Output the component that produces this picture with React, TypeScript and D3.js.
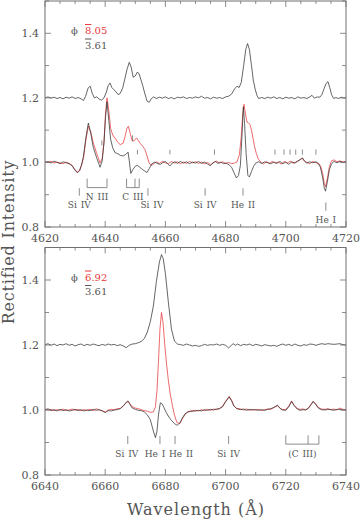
import * as d3 from "d3";

type Pt = [number, number];

// ---- data ----
const topWaveRange: [number, number] = [4620, 4720];
const bottomWaveRange: [number, number] = [6640, 6740];
const fluxRange: [number, number] = [0.8, 1.5];
const yTickLabels = [0.8, 1.0, 1.2, 1.4];

// upper (offset) spectrum, top panel
const top4650Mean: Pt[] = [
  [4620, 1.2], [4621, 1.203], [4622, 1.199], [4623, 1.202], [4624, 1.198], [4625, 1.201], [4626, 1.197],
  [4627, 1.202], [4628, 1.199], [4629, 1.203], [4630, 1.198], [4631, 1.201], [4632, 1.197], [4632.8, 1.192],
  [4633.5, 1.205], [4634.3, 1.23], [4635, 1.236], [4635.7, 1.214], [4636.4, 1.2], [4637.2, 1.203], [4638, 1.196],
  [4638.8, 1.193], [4639.6, 1.2], [4640.4, 1.218], [4641, 1.238], [4641.6, 1.246], [4642.2, 1.232], [4642.8, 1.226],
  [4643.5, 1.22], [4644.3, 1.21], [4645, 1.214], [4645.8, 1.23], [4646.6, 1.262], [4647.3, 1.29], [4648, 1.31],
  [4648.6, 1.296], [4649.3, 1.264], [4650, 1.268], [4650.6, 1.279], [4651.2, 1.276], [4651.9, 1.255], [4652.5, 1.237],
  [4653.2, 1.212], [4653.9, 1.19], [4654.6, 1.186], [4655.3, 1.197], [4656, 1.203], [4657, 1.198], [4658, 1.202],
  [4659, 1.199], [4660, 1.203], [4661, 1.198], [4662, 1.201], [4663, 1.197], [4664, 1.202], [4665, 1.2],
  [4666, 1.203], [4667, 1.198], [4668, 1.201], [4669, 1.199], [4670, 1.203], [4671, 1.2], [4672, 1.205],
  [4673, 1.199], [4674, 1.201], [4675, 1.197], [4676, 1.202], [4677, 1.199], [4678, 1.201], [4679, 1.198],
  [4680, 1.203], [4681, 1.205], [4682, 1.212], [4683, 1.228], [4683.8, 1.236], [4684.5, 1.232], [4685.2, 1.248],
  [4686, 1.3], [4686.7, 1.35], [4687.3, 1.368], [4687.9, 1.35], [4688.6, 1.3], [4689.2, 1.255], [4689.8, 1.228],
  [4690.4, 1.208], [4691, 1.198], [4692, 1.201], [4693, 1.198], [4694, 1.202], [4695, 1.199], [4696, 1.203],
  [4697, 1.198], [4698, 1.201], [4699, 1.197], [4700, 1.202], [4701, 1.199], [4702, 1.201], [4703, 1.197],
  [4704, 1.203], [4705, 1.199], [4706, 1.201], [4707, 1.198], [4708, 1.203], [4708.7, 1.208], [4709.5, 1.199],
  [4710.5, 1.203], [4711.3, 1.202], [4712, 1.21], [4712.7, 1.228], [4713.4, 1.245], [4714, 1.25], [4714.6, 1.232],
  [4715.2, 1.21], [4715.9, 1.198], [4716.6, 1.201], [4717.5, 1.198], [4718.5, 1.202], [4719.3, 1.199], [4720, 1.201],
];

const top4650PhaseA: Pt[] = [
  [4620, 1.0], [4621, 1.003], [4622, 0.998], [4623, 1.004], [4624, 1.0], [4625, 0.996], [4626, 1.002],
  [4627, 0.999], [4628, 0.996], [4629, 0.99], [4629.8, 0.978], [4630.7, 0.968], [4631.5, 0.974], [4632.2, 0.995],
  [4632.8, 1.02], [4633.6, 1.078], [4634.4, 1.122], [4635.2, 1.09], [4636, 1.048], [4637.1, 1.016], [4638.3, 0.985],
  [4639, 1.005], [4639.6, 1.06], [4640.1, 1.14], [4640.6, 1.188], [4641.2, 1.13], [4641.8, 1.072], [4642.5, 1.045],
  [4643.3, 1.03], [4644.2, 1.027], [4645, 1.022], [4646, 1.02], [4647, 1.026], [4647.6, 1.032], [4648, 1.005],
  [4648.5, 0.966], [4649.2, 0.978], [4650, 0.988], [4650.7, 0.991], [4651.5, 0.985], [4652.4, 0.978], [4653.3, 0.972],
  [4653.9, 0.969], [4654.7, 0.982], [4655.5, 0.996], [4656.5, 1.001], [4657.5, 0.996], [4658.3, 0.994], [4659.2, 1.0],
  [4660, 1.003], [4660.8, 0.995], [4661.5, 0.989], [4662.3, 0.998], [4663.2, 1.002], [4664, 0.997], [4665, 1.003],
  [4666, 0.998], [4667, 1.002], [4668, 0.996], [4669, 1.001], [4670, 0.998], [4671, 1.003], [4672, 0.997],
  [4673, 1.001], [4674, 0.995], [4674.9, 0.99], [4675.8, 0.998], [4676.6, 1.003], [4677.5, 0.997], [4678.4, 1.001],
  [4679.3, 0.996], [4680.2, 0.998], [4681.2, 0.992], [4682, 0.985], [4682.8, 0.968], [4683.6, 0.952], [4684.3, 0.96],
  [4684.9, 0.99], [4685.4, 1.075], [4685.9, 1.172], [4686.3, 1.12], [4686.8, 1.03], [4687.4, 0.96], [4687.9, 0.955],
  [4688.6, 0.972], [4689.3, 0.988], [4690, 0.998], [4691, 1.002], [4692, 0.997], [4693, 1.002], [4694, 0.999],
  [4695, 0.996], [4696, 1.001], [4697, 0.997], [4698, 1.003], [4699, 0.996], [4700, 1.001], [4701, 0.994],
  [4702, 1.002], [4703, 0.998], [4704, 1.004], [4705, 1.01], [4705.6, 1.014], [4706.3, 1.003], [4707, 0.998],
  [4708, 1.002], [4709, 0.999], [4710, 1.002], [4710.8, 0.996], [4711.5, 0.985], [4712.2, 0.955], [4712.8, 0.92],
  [4713.2, 0.911], [4713.8, 0.94], [4714.5, 0.978], [4715.2, 0.996], [4716, 1.003], [4717, 0.999], [4718, 1.003],
  [4719, 1.0], [4720, 1.002],
];

const top4650PhaseB: Pt[] = [
  [4620, 1.002], [4621, 0.999], [4622, 1.004], [4623, 0.998], [4624, 1.001], [4625, 0.999], [4626, 0.996],
  [4627, 1.001], [4628, 0.997], [4629, 0.991], [4629.8, 0.98], [4630.7, 0.97], [4631.5, 0.976], [4632.2, 0.992],
  [4632.8, 1.015], [4633.6, 1.07], [4634.4, 1.112], [4635.2, 1.095], [4636, 1.062], [4637.1, 1.03], [4638.3, 0.998],
  [4639, 1.012], [4639.6, 1.065], [4640.1, 1.15], [4640.6, 1.2], [4641.2, 1.16], [4641.8, 1.105], [4642.5, 1.085],
  [4643.3, 1.075], [4644.2, 1.062], [4645, 1.055], [4646, 1.06], [4646.6, 1.08], [4647.2, 1.105], [4647.7, 1.112],
  [4648.3, 1.09], [4649, 1.066], [4649.7, 1.068], [4650.4, 1.076], [4651, 1.068], [4651.7, 1.058], [4652.5, 1.05],
  [4653.2, 1.04], [4653.9, 1.02], [4654.6, 0.998], [4655.3, 0.99], [4656.2, 0.996], [4657, 1.002], [4658, 0.997],
  [4659, 1.003], [4660, 0.999], [4661, 0.996], [4662, 1.003], [4663, 0.998], [4664, 1.002], [4665, 0.996],
  [4666, 1.001], [4667, 0.997], [4668, 1.003], [4669, 0.999], [4670, 1.002], [4671, 0.997], [4672, 1.001],
  [4673, 0.996], [4674, 1.0], [4675, 0.993], [4676, 1.0], [4677, 1.004], [4678, 0.998], [4679, 1.002],
  [4680, 0.997], [4681, 1.0], [4682, 0.996], [4683, 0.998], [4683.8, 1.002], [4684.6, 1.025], [4685.2, 1.08],
  [4685.7, 1.15], [4686.1, 1.18], [4686.6, 1.15], [4687.1, 1.125], [4687.6, 1.122], [4688.1, 1.118], [4688.6, 1.1],
  [4689.1, 1.075], [4689.6, 1.05], [4690.2, 1.028], [4690.9, 1.01], [4691.8, 1.0], [4692.6, 0.995], [4693.5, 1.002],
  [4694.5, 0.997], [4695.5, 1.003], [4696.5, 0.998], [4697.5, 1.001], [4698.5, 0.995], [4699.5, 1.003], [4700.5, 0.998],
  [4701.5, 1.004], [4702.5, 0.997], [4703.5, 1.002], [4704.5, 1.007], [4705.4, 1.013], [4706.2, 1.004], [4707, 1.0],
  [4708, 0.996], [4709, 1.003], [4710, 0.999], [4710.8, 0.998], [4711.5, 0.99], [4712.2, 0.968], [4712.8, 0.935],
  [4713.2, 0.925], [4713.8, 0.95], [4714.5, 0.988], [4715.2, 1.005], [4716, 1.008], [4717, 1.002], [4718, 1.005],
  [4719, 1.001], [4720, 1.003],
];

// upper (offset) spectrum, bottom panel
const bottom6678Mean: Pt[] = [
  [6640, 1.201], [6641, 1.204], [6642, 1.199], [6643, 1.203], [6644, 1.198], [6645, 1.202], [6646, 1.2],
  [6647, 1.204], [6648, 1.199], [6649, 1.202], [6650, 1.197], [6651, 1.201], [6652, 1.203], [6653, 1.198],
  [6654, 1.202], [6655, 1.199], [6656, 1.203], [6657, 1.2], [6658, 1.198], [6659, 1.202], [6660, 1.199],
  [6661, 1.203], [6662, 1.2], [6663, 1.202], [6664, 1.198], [6665, 1.201], [6666, 1.197], [6667, 1.192],
  [6668, 1.199], [6669, 1.203], [6670, 1.204], [6671, 1.207], [6672, 1.211], [6673, 1.22], [6674, 1.24],
  [6675, 1.272], [6676, 1.32], [6677, 1.395], [6678, 1.455], [6678.7, 1.478], [6679.3, 1.465], [6680, 1.42],
  [6681, 1.33], [6682, 1.25], [6683, 1.212], [6684, 1.203], [6685, 1.201], [6686, 1.199], [6687, 1.203],
  [6688, 1.2], [6689, 1.197], [6690, 1.199], [6691, 1.196], [6692, 1.198], [6693, 1.202], [6694, 1.199],
  [6695, 1.201], [6696, 1.2], [6697, 1.203], [6698, 1.199], [6699, 1.202], [6700, 1.199], [6701, 1.191],
  [6701.8, 1.198], [6702.5, 1.204], [6703.3, 1.199], [6704, 1.203], [6705, 1.198], [6706, 1.202], [6707, 1.2],
  [6708, 1.203], [6709, 1.198], [6710, 1.202], [6711, 1.2], [6712, 1.197], [6713, 1.201], [6714, 1.199],
  [6715, 1.197], [6716, 1.199], [6717, 1.196], [6718, 1.2], [6719, 1.203], [6720, 1.199], [6721, 1.202],
  [6722, 1.198], [6723, 1.203], [6724, 1.199], [6725, 1.197], [6726, 1.201], [6727, 1.199], [6728, 1.203],
  [6729, 1.202], [6730, 1.199], [6731, 1.202], [6732, 1.204], [6733, 1.202], [6734, 1.204], [6735, 1.203],
  [6736, 1.202], [6737, 1.203], [6738, 1.204], [6739, 1.201], [6740, 1.2],
];

const bottom6678PhaseA: Pt[] = [
  [6640, 1.0], [6641, 1.004], [6642, 0.998], [6643, 1.001], [6644, 0.997], [6645, 1.002], [6646, 0.998],
  [6647, 1.001], [6648, 0.997], [6649, 0.999], [6650, 1.002], [6651, 0.998], [6652, 1.001], [6653, 0.997],
  [6654, 1.0], [6655, 0.998], [6656, 1.002], [6657, 0.999], [6658, 1.001], [6659, 0.997], [6660, 0.992],
  [6661, 0.998], [6662, 0.997], [6663, 1.0], [6664, 1.001], [6665, 1.004], [6666, 1.012], [6667, 1.024],
  [6667.6, 1.028], [6668.3, 1.016], [6669, 1.006], [6670, 1.002], [6671, 0.999], [6672, 0.998], [6673, 0.994],
  [6674, 0.985], [6675, 0.97], [6676, 0.935], [6676.7, 0.915], [6677.2, 0.935], [6677.7, 0.985], [6678.3, 1.022],
  [6678.8, 1.02], [6679.5, 1.008], [6680.3, 0.992], [6681.2, 0.978], [6682, 0.968], [6683, 0.958], [6683.9, 0.953],
  [6684.8, 0.96], [6685.6, 0.975], [6686.5, 0.988], [6687.5, 0.994], [6688.5, 0.996], [6690, 0.997], [6691, 0.999],
  [6692, 0.997], [6693, 1.001], [6694, 0.999], [6695, 1.002], [6696, 1.0], [6697, 1.003], [6698, 1.004],
  [6699, 1.01], [6700, 1.025], [6701.2, 1.04], [6702, 1.028], [6702.8, 1.012], [6703.7, 1.004], [6705, 1.001],
  [6706, 1.003], [6707, 0.999], [6708, 1.002], [6709, 1.0], [6710, 1.001], [6711, 0.999], [6712, 1.001],
  [6713, 0.999], [6714, 1.002], [6715, 1.004], [6716, 1.008], [6717.2, 1.015], [6718.2, 1.004], [6719, 1.0],
  [6720, 0.999], [6721, 1.01], [6721.9, 1.026], [6722.8, 1.013], [6723.8, 1.003], [6724.7, 0.999], [6725.7, 1.001],
  [6726.6, 1.0], [6727.5, 1.005], [6728.3, 1.015], [6729.1, 1.026], [6730, 1.016], [6730.8, 1.006], [6731.8, 1.001],
  [6733, 1.0], [6734, 1.002], [6735, 1.001], [6736, 0.999], [6737, 1.002], [6738, 1.002], [6739, 1.0], [6740, 1.0],
];

const bottom6678PhaseB: Pt[] = [
  [6640, 1.003], [6641, 0.999], [6642, 1.002], [6643, 0.998], [6644, 1.001], [6645, 0.999], [6646, 1.003],
  [6647, 0.998], [6648, 1.0], [6649, 1.003], [6650, 0.999], [6651, 1.002], [6652, 0.998], [6653, 1.001],
  [6654, 0.999], [6655, 1.002], [6656, 0.998], [6657, 1.004], [6658, 1.0], [6659, 0.998], [6660, 0.994],
  [6661, 1.0], [6662, 1.002], [6663, 1.001], [6664, 1.004], [6665, 1.005], [6666, 1.013], [6667, 1.022],
  [6667.6, 1.026], [6668.3, 1.018], [6669, 1.01], [6670, 1.006], [6671, 1.004], [6672, 1.001], [6673, 0.998],
  [6674, 0.996], [6675, 0.993], [6676, 0.994], [6676.7, 1.01], [6677.2, 1.06], [6677.7, 1.15], [6678.2, 1.25],
  [6678.7, 1.3], [6679.2, 1.27], [6679.8, 1.2], [6680.4, 1.14], [6681, 1.09], [6681.6, 1.05], [6682.3, 1.015],
  [6683, 0.985], [6683.8, 0.962], [6684.8, 0.958], [6685.6, 0.972], [6686.5, 0.986], [6687.5, 0.995], [6688.5, 0.997],
  [6690, 0.999], [6691, 0.997], [6692, 1.001], [6693, 0.998], [6694, 1.002], [6695, 0.999], [6696, 1.003],
  [6697, 1.001], [6698, 1.005], [6699, 1.012], [6700, 1.027], [6701.2, 1.042], [6702, 1.03], [6702.8, 1.012],
  [6703.7, 1.005], [6705, 1.003], [6706, 1.0], [6707, 1.003], [6708, 0.999], [6709, 1.002], [6710, 1.0],
  [6711, 1.002], [6712, 0.998], [6713, 1.001], [6714, 1.003], [6715, 1.002], [6716, 1.007], [6717.2, 1.013],
  [6718.2, 1.005], [6719, 1.001], [6720, 1.002], [6721, 1.012], [6721.9, 1.028], [6722.8, 1.014], [6723.8, 1.005],
  [6724.7, 1.002], [6725.7, 1.003], [6726.6, 1.001], [6727.5, 1.006], [6728.3, 1.017], [6729.1, 1.027], [6730, 1.018],
  [6730.8, 1.008], [6731.8, 1.003], [6733, 1.002], [6734, 1.004], [6735, 1.001], [6736, 1.003], [6737, 1.0],
  [6738, 1.006], [6739, 1.002], [6740, 1.001],
];

// small "|" marks over the top spectra: wavelength, flux low, flux high
const topMarks: [number, number, number][] = [
  [4638.9, 1.053, 1.068], [4649.1, 1.066, 1.084], [4650.7, 1.025, 1.039], [4661.5, 1.025, 1.039],
  [4676.3, 1.024, 1.04], [4696.4, 1.024, 1.04], [4699.4, 1.024, 1.04], [4701.4, 1.024, 1.04],
  [4703.3, 1.024, 1.04], [4705.5, 1.024, 1.04], [4710, 1.024, 1.04],
];

// line identifications
type LineId = { label: string; waves: number[]; hi: number; lo: number; dx?: number };
const topLineIds: LineId[] = [
  { label: "Si IV", waves: [4631.4], hi: 0.92, lo: 0.897 },
  { label: "N III", waves: [4634.0, 4640.6], hi: 0.95, lo: 0.922 },
  { label: "C III", waves: [4647.1, 4649.9, 4651.3], hi: 0.95, lo: 0.922 },
  { label: "Si IV", waves: [4654.2], hi: 0.92, lo: 0.897, dx: 4 },
  { label: "Si IV", waves: [4673.2], hi: 0.92, lo: 0.897 },
  { label: "He II", waves: [4685.8], hi: 0.92, lo: 0.897 },
  { label: "He I", waves: [4713.3], hi: 0.876, lo: 0.85 },
];
const bottomLineIds: LineId[] = [
  { label: "Si IV", waves: [6667.5], hi: 0.92, lo: 0.895, dx: -1 },
  { label: "He I", waves: [6678.2], hi: 0.92, lo: 0.895, dx: -5 },
  { label: "He II", waves: [6683.2], hi: 0.92, lo: 0.895, dx: 6 },
  { label: "Si IV", waves: [6701.0], hi: 0.92, lo: 0.895 },
  { label: "(C III)", waves: [6720.0, 6727.4, 6731.0], hi: 0.922, lo: 0.895 },
];

const topPhases = ["8", ".05"];
const bottomPhases = ["6", ".92"];
const meanPhase = ["3", ".61"];

// ---- layout ----
const W = 360;
const H = 520;
const X0 = 45;
const X1 = 346;
const BLACK = "#333";
const RED = "#e8383c";
const AXIS = "#707070";
const TEXT = "#555";
const FONT = "'DejaVu Serif', serif";

type PanelProps = {
  waveRange: [number, number];
  yTop: number;
  yBottom: number;
  mean: Pt[];
  phaseA: Pt[];
  phaseB: Pt[];
  marks: [number, number, number][];
  ids: LineId[];
  phaseRed: string[];
};

function Panel({ waveRange, yTop, yBottom, mean, phaseA, phaseB, marks, ids, phaseRed }: PanelProps) {
  const x = d3.scaleLinear().domain(waveRange).range([X0, X1]);
  const y = d3.scaleLinear().domain(fluxRange).range([yBottom, yTop]);
  const line = d3
    .line<Pt>()
    .x((d) => x(d[0]))
    .y((d) => y(d[1]));

  const xMinor = d3.range(waveRange[0], waveRange[1] + 0.01, 5);
  const xMajor = d3.range(waveRange[0], waveRange[1] + 0.01, 20);
  const yMinor = d3.range(0.8, 1.5001, 0.1);

  return (
    <g>
      <defs>
        <clipPath id={`clip-${waveRange[0]}`}>
          <rect x={X0} y={yTop} width={X1 - X0} height={yBottom - yTop} />
        </clipPath>
      </defs>
      <g clipPath={`url(#clip-${waveRange[0]})`} fill="none" strokeWidth={0.75} strokeLinejoin="round">
        <path d={line(mean) || ""} stroke={BLACK} />
        <path d={line(phaseB) || ""} stroke={RED} />
        <path d={line(phaseA) || ""} stroke={BLACK} />
      </g>

      {/* frame and ticks */}
      <rect x={X0} y={yTop} width={X1 - X0} height={yBottom - yTop} fill="none" stroke={AXIS} strokeWidth={1} />
      <g stroke={AXIS} strokeWidth={0.8}>
        {xMinor.map((w) => {
          const len = xMajor.includes(w) ? 6 : 3;
          return (
            <g key={`x${w}`}>
              <line x1={x(w)} x2={x(w)} y1={yBottom} y2={yBottom - len} />
              <line x1={x(w)} x2={x(w)} y1={yTop} y2={yTop + len} />
            </g>
          );
        })}
        {yMinor.map((v) => {
          const len = yTickLabels.some((t) => Math.abs(t - v) < 1e-6) ? 6 : 4;
          return (
            <g key={`y${v.toFixed(1)}`}>
              <line x1={X0} x2={X0 + len} y1={y(v)} y2={y(v)} />
              <line x1={X1} x2={X1 - len} y1={y(v)} y2={y(v)} />
            </g>
          );
        })}
      </g>
      <g fontFamily={FONT} fontSize={11} fill={TEXT}>
        {xMajor.map((w) => (
          <text key={`xl${w}`} x={x(w)} y={yBottom + 15} textAnchor="middle">
            {w}
          </text>
        ))}
        {yTickLabels.map((v) => (
          <text key={`yl${v}`} x={39} y={y(v) + 4} textAnchor="end">
            {v.toFixed(1)}
          </text>
        ))}
      </g>

      {/* marks over spectra */}
      <g stroke={AXIS} strokeWidth={0.8}>
        {marks.map((m, i) => (
          <line key={i} x1={x(m[0])} x2={x(m[0])} y1={y(m[1])} y2={y(m[2])} />
        ))}
      </g>

      {/* line identifications */}
      <g stroke={AXIS} strokeWidth={0.8}>
        {ids.map((id, i) => (
          <g key={i}>
            {id.waves.map((w) => (
              <line key={w} x1={x(w)} x2={x(w)} y1={y(id.hi)} y2={y(id.lo)} />
            ))}
            {id.waves.length > 1 && (
              <line x1={x(id.waves[0])} x2={x(id.waves[id.waves.length - 1])} y1={y(id.lo)} y2={y(id.lo)} />
            )}
          </g>
        ))}
      </g>
      <g fontFamily={FONT} fontSize={9} fill={TEXT} wordSpacing={1}>
        {ids.map((id, i) => {
          const cx = (x(id.waves[0]) + x(id.waves[id.waves.length - 1])) / 2 + (id.dx || 0);
          return (
            <text key={i} x={cx} y={y(id.lo) + 12.5} textAnchor="middle">
              {id.label}
            </text>
          );
        })}
      </g>

      {/* phase legend */}
      <g fontFamily={FONT} fontSize={10}>
        <text x={74.5} y={yTop + 33} textAnchor="middle" fill={TEXT}>
          ϕ
        </text>
        <text x={85} y={yTop + 33} fill={RED}>
          <tspan style={{ textDecoration: "overline" }}>{phaseRed[0]}</tspan>
          {phaseRed[1]}
        </text>
        <text x={85} y={yTop + 47.5} fill={TEXT}>
          <tspan style={{ textDecoration: "overline" }}>{meanPhase[0]}</tspan>
          {meanPhase[1]}
        </text>
      </g>
    </g>
  );
}

export default function App() {
  return (
    <div style={{ position: "absolute", left: 0, top: 0, width: W, height: H, background: "#fff" }}>
      <svg width={W} height={H} viewBox={`0 0 ${W} ${H}`}>
        <rect width={W} height={H} fill="#fff" />
        <Panel
          waveRange={topWaveRange}
          yTop={1}
          yBottom={227}
          mean={top4650Mean}
          phaseA={top4650PhaseA}
          phaseB={top4650PhaseB}
          marks={topMarks}
          ids={topLineIds}
          phaseRed={topPhases}
        />
        <Panel
          waveRange={bottomWaveRange}
          yTop={247.5}
          yBottom={475}
          mean={bottom6678Mean}
          phaseA={bottom6678PhaseA}
          phaseB={bottom6678PhaseB}
          marks={[]}
          ids={bottomLineIds}
          phaseRed={bottomPhases}
        />
        <text
          x={196}
          y={515}
          textAnchor="middle"
          fontFamily={FONT}
          fontSize={16}
          letterSpacing={1}
          fill={TEXT}
        >
          Wavelength (Å)
        </text>
        <text
          transform="translate(14,242) rotate(-90)"
          textAnchor="middle"
          fontFamily={FONT}
          fontSize={16}
          letterSpacing={0.8}
          fill={TEXT}
        >
          Rectified Intensity
        </text>
      </svg>
    </div>
  );
}
